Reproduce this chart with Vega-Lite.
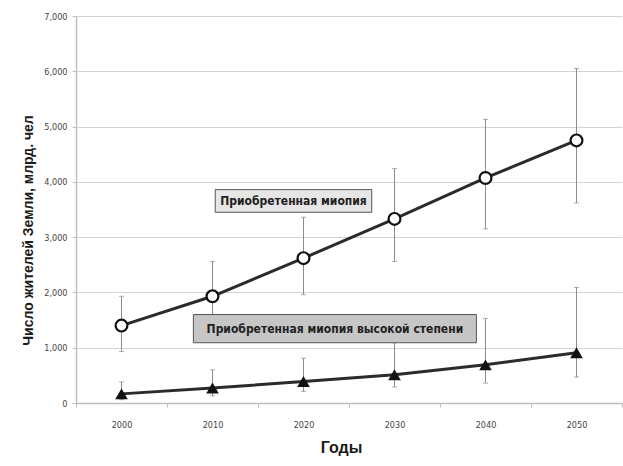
{
  "$schema": "https://vega.github.io/schema/vega-lite/v6.json",
  "autosize": "none",
  "width": 546,
  "height": 387,
  "padding": {"left": 76, "top": 16, "right": 1, "bottom": 63},
  "background": "white",
  "config": {
    "view": {"stroke": null},
    "font": "Liberation Sans",
    "axis": {"labelFont": "DejaVu Sans Condensed, Liberation Sans, sans-serif", "titleFont": "Liberation Sans"}
  },
  "datasets": {
    "series": [
      {"year": "2000", "series": "Приобретенная миопия", "value": 1400, "lo": 930, "hi": 1930},
      {"year": "2010", "series": "Приобретенная миопия", "value": 1930, "lo": 1300, "hi": 2560},
      {"year": "2020", "series": "Приобретенная миопия", "value": 2620, "lo": 1960, "hi": 3360},
      {"year": "2030", "series": "Приобретенная миопия", "value": 3330, "lo": 2560, "hi": 4240},
      {"year": "2040", "series": "Приобретенная миопия", "value": 4070, "lo": 3150, "hi": 5130},
      {"year": "2050", "series": "Приобретенная миопия", "value": 4750, "lo": 3620, "hi": 6050},
      {"year": "2000", "series": "Приобретенная миопия высокой степени", "value": 165, "lo": 60, "hi": 380},
      {"year": "2010", "series": "Приобретенная миопия высокой степени", "value": 270, "lo": 130, "hi": 600},
      {"year": "2020", "series": "Приобретенная миопия высокой степени", "value": 390, "lo": 210, "hi": 810},
      {"year": "2030", "series": "Приобретенная миопия высокой степени", "value": 510, "lo": 290, "hi": 1090},
      {"year": "2040", "series": "Приобретенная миопия высокой степени", "value": 690, "lo": 360, "hi": 1530},
      {"year": "2050", "series": "Приобретенная миопия высокой степени", "value": 910, "lo": 470, "hi": 2090}
    ],
    "labels": [
      {"label": "Приобретенная миопия", "xa": 2010.3, "xb": 2027.5, "ya": 3450, "yb": 3860, "xm": 2018.9, "ym": 3655, "fill": "#e6e6e6"},
      {"label": "Приобретенная миопия высокой степени", "xa": 2007.9, "xb": 2039.0, "ya": 1090, "yb": 1600, "xm": 2023.45, "ym": 1345, "fill": "#c6c6c6"}
    ]
  },
  "resolve": {"scale": {"x": "independent"}},
  "layer": [
    {
      "data": {"name": "series"},
      "encoding": {
        "x": {
          "field": "year", "type": "ordinal",
          "scale": {"paddingInner": 0, "paddingOuter": 0},
          "axis": {
            "title": "Годы", "titleFontSize": 16, "titleFontWeight": "bold", "titleColor": "#1a1a1a",
            "titleX": 265, "titleY": 44, "titleBaseline": "middle",
            "labelAngle": 0, "labelFontSize": 9, "labelColor": "#444", "labelPadding": 13,
            "tickBand": "extent", "tickSize": 4, "tickColor": "#bfbfbf",
            "domainColor": "#bfbfbf", "domainWidth": 1.5, "grid": false
          }
        }
      },
      "layer": [
        {
          "mark": {"type": "rule", "color": "#8c8c8c", "strokeWidth": 1},
          "encoding": {
            "y": {"field": "lo", "type": "quantitative",
              "scale": {"domain": [0, 7000]},
              "axis": {
                "title": "Число жителей Земли, млрд. чел", "titleFontSize": 14, "titleFontWeight": "bold", "titleColor": "#1a1a1a",
                "titleX": -48, "titleY": 214, "titleAngle": 270, "titleAlign": "center", "titleBaseline": "middle",
                "values": [0, 1000, 2000, 3000, 4000, 5000, 6000, 7000], "format": ",d",
                "labelFontSize": 9, "labelColor": "#444", "labelPadding": 5,
                "tickSize": 4, "tickColor": "#bfbfbf", "domainColor": "#bfbfbf", "domainWidth": 1.5,
                "gridColor": "#d4d4d4", "gridWidth": 1.2
              }
            },
            "y2": {"field": "hi"}
          }
        },
        {
          "mark": {"type": "tick", "color": "#8c8c8c", "thickness": 1, "size": 5},
          "encoding": {"y": {"field": "lo", "type": "quantitative"}}
        },
        {
          "mark": {"type": "tick", "color": "#8c8c8c", "thickness": 1, "size": 5},
          "encoding": {"y": {"field": "hi", "type": "quantitative"}}
        },
        {
          "mark": {"type": "line", "color": "#2b2b2b", "strokeWidth": 3},
          "encoding": {
            "y": {"field": "value", "type": "quantitative"},
            "detail": {"field": "series"}
          }
        },
        {
          "transform": [{"filter": "datum.series == 'Приобретенная миопия'"}],
          "mark": {"type": "point", "shape": "circle", "filled": true, "fill": "white", "stroke": "#111", "strokeWidth": 2.2, "size": 140, "opacity": 1},
          "encoding": {"y": {"field": "value", "type": "quantitative"}}
        },
        {
          "transform": [{"filter": "datum.series != 'Приобретенная миопия'"}],
          "mark": {"type": "point", "shape": "triangle-up", "filled": true, "color": "#111", "size": 160, "opacity": 1},
          "encoding": {"y": {"field": "value", "type": "quantitative"}}
        }
      ]
    },
    {
      "data": {"name": "labels"},
      "layer": [
        {
          "mark": {"type": "rect", "stroke": "#555", "strokeWidth": 1},
          "encoding": {
            "x": {"field": "xa", "type": "quantitative", "scale": {"domain": [1995, 2055]}, "axis": null},
            "x2": {"field": "xb"},
            "y": {"field": "ya", "type": "quantitative"},
            "y2": {"field": "yb"},
            "fill": {"field": "fill", "type": "nominal", "scale": null}
          }
        },
        {
          "mark": {"type": "text", "fontSize": 12, "font": "DejaVu Sans Condensed, Liberation Sans, sans-serif", "fontWeight": "bold", "color": "#222", "align": "center", "baseline": "middle"},
          "encoding": {
            "x": {"field": "xm", "type": "quantitative"},
            "y": {"field": "ym", "type": "quantitative"},
            "text": {"field": "label"}
          }
        }
      ]
    }
  ]
}
